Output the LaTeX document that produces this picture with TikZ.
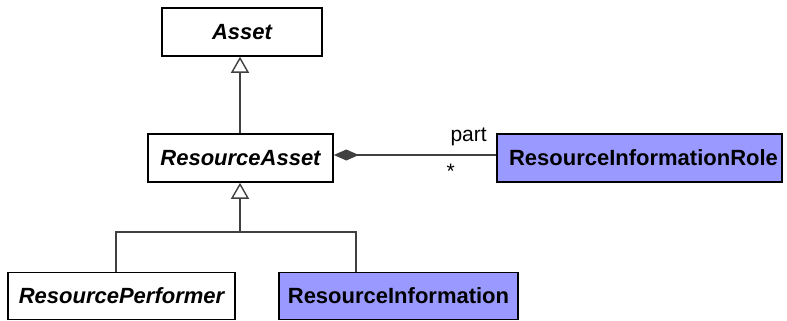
\documentclass[tikz,border=0pt]{standalone}
\usepackage{fontspec}
\setmainfont{Liberation Sans}
\usetikzlibrary{arrows.meta}
\definecolor{lineg}{RGB}{64,64,64}
\definecolor{roleblue}{RGB}{153,153,255}
\begin{document}
\begin{tikzpicture}[x=1pt,y=-1pt,
  cls/.style={draw=black,line width=1.6pt,fill=white,inner sep=0pt,font=\fontsize{22}{26}\selectfont\bfseries\itshape},
  clsblue/.style={cls,fill=roleblue,font=\fontsize{22}{26}\selectfont\bfseries},
  conn/.style={draw=lineg,line width=1.6pt},
  gen/.style={conn,-{Triangle[open,length=16pt,width=18pt,line width=1.4pt]}},
  lbl/.style={font=\fontsize{21}{24}\selectfont,inner sep=0pt}]
\useasboundingbox (0,0) rectangle (787,321);
\node[cls,minimum width=160pt,minimum height=48pt] (asset) at (242,32) {Asset};
\node[cls,minimum width=185pt,minimum height=48pt] (ra) at (240.5,158) {ResourceAsset};
\node[clsblue,minimum width=285pt,minimum height=48pt] (rir) at (639.5,158) {\hspace*{8pt}ResourceInformationRole};
\node[cls,minimum width=227pt,minimum height=47pt] (rp) at (121.5,296) {ResourcePerformer};
\node[clsblue,minimum width=239pt,minimum height=47pt] (ri) at (398.5,296) {ResourceInformation};
\coordinate (j) at (240,232);
\draw[gen] ([xshift=-0.5pt]ra.north) -- ([xshift=-2pt]asset.south);
\draw[conn] ([xshift=109pt]rp.north west) |- (j);
\draw[conn] ([xshift=78pt]ri.north west) |- (j);
\draw[gen] (j) -- ([xshift=-0.5pt]ra.south);
\draw[conn,{Diamond[length=25pt,width=11pt,fill=lineg]}-] ([yshift=3pt]ra.east) -- ([yshift=3pt]rir.west) node[lbl,pos=0.83,above=8pt] {part} node[lbl,pos=0.72,below=8pt] {*};
\end{tikzpicture}
\end{document}
